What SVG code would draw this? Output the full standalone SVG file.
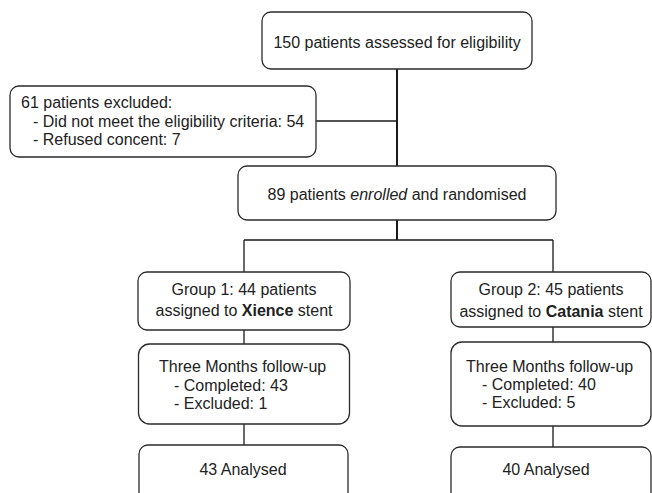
<svg xmlns="http://www.w3.org/2000/svg" width="652" height="493" viewBox="0 0 652 493">
<style>
.box{fill:#fff;stroke:#2a2a2a;stroke-width:1.3}
.t{font-family:"Liberation Sans",Arial,sans-serif;font-size:16px;fill:#222}
.c{text-anchor:middle}
.ln{fill:none;stroke:#1a1a1a;stroke-width:1.3}
.thick{stroke-width:2}
</style>
<rect width="652" height="493" fill="#fff"/>
<g id="connectors">
<path class="ln thick" d="M397,69 V166"/>
<path class="ln" d="M316,121 H397"/>
<path class="ln thick" d="M397,220 V240"/>
<path class="ln" d="M244,240 H553 M244,240 V272 M553,240 V272"/>
<path class="ln" d="M244,330 V344 M244,424 V445"/>
<path class="ln" d="M553,327 V342 M553,426 V447"/>
</g>
<g id="assessed">
<rect class="box" x="262" y="12" width="270" height="57" rx="9"/>
<text class="t c" x="397" y="48">150 patients assessed for eligibility</text>
</g>
<g id="excluded">
<rect class="box" x="10" y="86" width="306" height="71" rx="9"/>
<text class="t" x="21" y="108">61 patients excluded:</text>
<text class="t" x="33" y="127">- Did not meet the eligibility criteria: 54</text>
<text class="t" x="33" y="145">- Refused concent: 7</text>
</g>
<g id="enrolled">
<rect class="box" x="238" y="166" width="318" height="54" rx="9"/>
<text class="t c" x="397" y="200">89 patients <tspan font-style="italic">enrolled</tspan> and randomised</text>
</g>
<g id="group1">
<rect class="box" x="138" y="272" width="212" height="58" rx="9"/>
<text class="t c" x="244" y="295">Group 1: 44 patients</text>
<text class="t c" x="244" y="316">assigned to <tspan font-weight="bold">Xience</tspan> stent</text>
</g>
<g id="group2">
<rect class="box" x="451" y="272" width="200" height="55" rx="9"/>
<text class="t c" x="551" y="295">Group 2: 45 patients</text>
<text class="t c" x="551" y="317">assigned to <tspan font-weight="bold">Catania</tspan> stent</text>
</g>
<g id="followup1">
<rect class="box" x="138.5" y="344" width="211" height="80" rx="11"/>
<text class="t" x="159" y="372">Three Months follow-up</text>
<text class="t" x="174" y="391">- Completed: 43</text>
<text class="t" x="174" y="409">- Excluded: 1</text>
</g>
<g id="followup2">
<rect class="box" x="451" y="342" width="200" height="84" rx="11"/>
<text class="t" x="466" y="372">Three Months follow-up</text>
<text class="t" x="482" y="390">- Completed: 40</text>
<text class="t" x="482" y="408">- Excluded: 5</text>
</g>
<g id="analysed1">
<rect class="box" x="139" y="445" width="209" height="60" rx="9"/>
<text class="t c" x="243" y="475">43 Analysed</text>
</g>
<g id="analysed2">
<rect class="box" x="451" y="447" width="200" height="60" rx="9"/>
<text class="t c" x="546" y="475">40 Analysed</text>
</g>
</svg>
